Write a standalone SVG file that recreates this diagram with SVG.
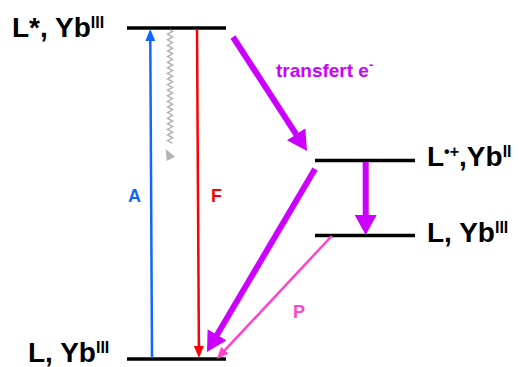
<svg xmlns="http://www.w3.org/2000/svg" width="519" height="367" viewBox="0 0 519 367">
<style>
.lvl{stroke:#000;stroke-width:3.5;fill:none}
.lbl{font-family:"Liberation Sans",Arial,sans-serif;font-weight:bold;font-size:28px;fill:#000}
.sup{font-size:16px}
.small{font-family:"Liberation Sans",Arial,sans-serif;font-weight:bold;font-size:18px}
.pur{stroke:#CC00FF;stroke-width:6;fill:none}
.thin{stroke-width:2.5;fill:none}
</style>
<defs>
<marker id="hp" markerUnits="userSpaceOnUse" markerWidth="20" markerHeight="22" refX="2" refY="11" orient="auto"><path d="M0,0 L20,11 L0,22 z" fill="#CC00FF"/></marker>
<marker id="hb" markerUnits="userSpaceOnUse" markerWidth="12" markerHeight="10" refX="2" refY="5" orient="auto"><path d="M0,0 L12,5 L0,10 z" fill="#1166FF"/></marker>
<marker id="hr" markerUnits="userSpaceOnUse" markerWidth="12" markerHeight="10" refX="2" refY="5" orient="auto"><path d="M0,0 L12,5 L0,10 z" fill="#FF0000"/></marker>
<marker id="hk" markerUnits="userSpaceOnUse" markerWidth="12" markerHeight="10" refX="2" refY="5" orient="auto"><path d="M0,0 L12,5 L0,10 z" fill="#FF44CC"/></marker>
</defs>
<rect width="519" height="367" fill="#fff"/>
<g id="level-excited">
<line class="lvl" x1="127" y1="28" x2="226" y2="28"/>
<text class="lbl" x="12" y="37">L*, Yb<tspan class="sup" dy="-9">III</tspan></text>
</g>
<g id="level-ground">
<line class="lvl" x1="127" y1="359" x2="226" y2="359"/>
<text class="lbl" x="28" y="362">L, Yb<tspan class="sup" dy="-9">III</tspan></text>
</g>
<g id="level-cs">
<line class="lvl" x1="315" y1="160.5" x2="415" y2="160.5"/>
<text class="lbl" x="427" y="166">L<tspan class="sup" dy="-9">•+</tspan><tspan dy="9">,Yb</tspan><tspan class="sup" dy="-9">II</tspan></text>
</g>
<g id="level-ground2">
<line class="lvl" x1="315" y1="235.5" x2="415" y2="235.5"/>
<text class="lbl" x="427" y="242">L, Yb<tspan class="sup" dy="-9">III</tspan></text>
</g>
<g id="connectors">
<line class="thin" stroke="#1166FF" x1="152" y1="358" x2="150.3" y2="39" marker-end="url(#hb)"/>
<line class="thin" stroke="#FF0000" x1="197" y1="29" x2="198.9" y2="348" marker-end="url(#hr)"/>
<path d="M170,30 l2.5,1.4 l-5,2.8 l5,2.8 l-5,2.8 l5,2.8 l-5,2.8 l5,2.8 l-5,2.8 l5,2.8 l-5,2.8 l5,2.8 l-5,2.8 l5,2.8 l-5,2.8 l5,2.8 l-5,2.8 l5,2.8 l-5,2.8 l5,2.8 l-5,2.8 l5,2.8 l-5,2.8 l5,2.8 l-5,2.8 l5,2.8 l-5,2.8 l5,2.8 l-5,2.8 l5,2.8 l-5,2.8 l5,2.8 l-5,2.8 l5,2.8 l-5,2.8 l5,2.8 l-5,2.8 l5,2.8 l-5,2.8 l5,2.8 l-5,2.8 l5,2.8" stroke="#B4B4B4" stroke-width="1.5" fill="none"/>
<polygon points="165.7,149 166.7,161 175,156.7" fill="#B4B4B4"/>
<line class="pur" x1="233" y1="37" x2="297.2" y2="135.9" marker-end="url(#hp)"/>
<line class="pur" x1="315" y1="169" x2="216.1" y2="336.5" marker-end="url(#hp)"/>
<line class="pur" x1="365.7" y1="162" x2="365.7" y2="217" marker-end="url(#hp)"/>
<line class="thin" stroke="#FF44CC" x1="331.7" y1="236" x2="223.5" y2="351.7" marker-end="url(#hk)"/>
</g>
<g id="labels">
<text x="276" y="77" font-family="Liberation Sans, Arial, sans-serif" font-weight="bold" font-size="19" fill="#CC00FF">transfert e<tspan font-size="13" dy="-8">-</tspan></text>
<text class="small" x="128" y="202" fill="#1166FF">A</text>
<text class="small" x="211" y="202" fill="#FF0000">F</text>
<text class="small" x="293" y="318" fill="#FF44CC">P</text>
</g>
</svg>
